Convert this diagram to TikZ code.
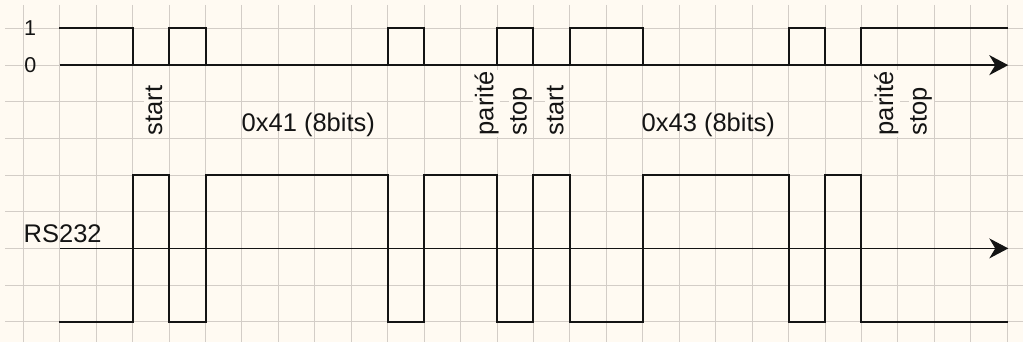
\documentclass[tikz,border=0pt]{standalone}
\usepackage{fontspec}
\setmainfont{Liberation Sans}
\usetikzlibrary{arrows.meta}
\definecolor{bg}{HTML}{FFFAF2}
\definecolor{gridc}{HTML}{D3CDC7}
\definecolor{ink}{HTML}{141414}
\tikzset{
  gridline/.style={draw=gridc,line width=0.9pt},
  sig/.style={draw=ink,line width=2pt,line join=miter,line cap=rect},
  axisthick/.style={draw=ink,line width=2pt,-{Stealth[length=19pt,width=20pt,inset=6pt]}},
  axisthin/.style={draw=ink,line width=1pt,-{Stealth[length=19pt,width=20pt,inset=6pt]}},
  lvl/.style={font=\fontsize{21.5}{24}\selectfont,text=ink,inner sep=0pt},
  hlab/.style={font=\fontsize{25.5}{28}\selectfont,text=ink,inner sep=0pt},
  vlab/.style={font=\fontsize{25.5}{28}\selectfont,text=ink,rotate=90,anchor=base west,fill=bg,inner sep=1.5pt},
}
\begin{document}
\begin{tikzpicture}[x=1pt,y=-1pt]
\useasboundingbox[fill=bg] (0,0) rectangle (1023,342);
% grid
\foreach \i in {0,...,27} \draw[gridline] ({23.3+36.44*\i},5) -- ({23.3+36.44*\i},342);
\foreach \j in {0,...,8} \draw[gridline] (5,{28.5+36.65*\j}) -- (1023,{28.5+36.65*\j});
% labels
\node[lvl] (one) at (30,28.5) {1};
\node[lvl] (zero) at (30.3,65.5) {0};
\node[hlab,anchor=base west] (rs) at (23.5,242.3) {RS232};
\node[hlab,anchor=base west] (b1) at (241.5,131.7) {0x41 (8bits)};
\node[hlab,anchor=base west] (b2) at (641.5,131.7) {0x43 (8bits)};
\node[vlab] (st1) at (162,137) {start};
\node[vlab] (pa1) at (493.3,137) {parité};
\node[vlab] (sp1) at (526.7,137) {stop};
\node[vlab] (st2) at (563.3,137) {start};
\node[vlab] (pa2) at (893,137) {parité};
\node[vlab] (sp2) at (926.7,137) {stop};
\begin{scope}[x=36.44pt,y=-36.65pt,shift={(23.3pt,-28.5pt)}]
  % TTL axis and signal
  \coordinate (ta) at (1,1);
  \coordinate (tb) at (27.03,1);
  \draw[axisthick] (ta) -- (tb);
  \draw[sig] (1,0) -- (3,0) -- (3,1) -- (4,1) -- (4,0) -- (5,0) -- (5,1) -- (10,1) -- (10,0) -- (11,0) -- (11,1) -- (13,1) -- (13,0) -- (14,0) -- (14,1) -- (15,1) -- (15,0) -- (17,0) -- (17,1) -- (21,1) -- (21,0) -- (22,0) -- (22,1) -- (23,1) -- (23,0) -- (27,0);
  % RS232 axis and signal
  \coordinate (ra) at (1,6);
  \coordinate (rb) at (27.03,6);
  \draw[axisthin] (ra) -- (rb);
  \draw[sig] (1,8) -- (3,8) -- (3,4) -- (4,4) -- (4,8) -- (5,8) -- (5,4) -- (10,4) -- (10,8) -- (11,8) -- (11,4) -- (13,4) -- (13,8) -- (14,8) -- (14,4) -- (15,4) -- (15,8) -- (17,8) -- (17,4) -- (21,4) -- (21,8) -- (22,8) -- (22,4) -- (23,4) -- (23,8) -- (27,8);
\end{scope}
\end{tikzpicture}
\end{document}
